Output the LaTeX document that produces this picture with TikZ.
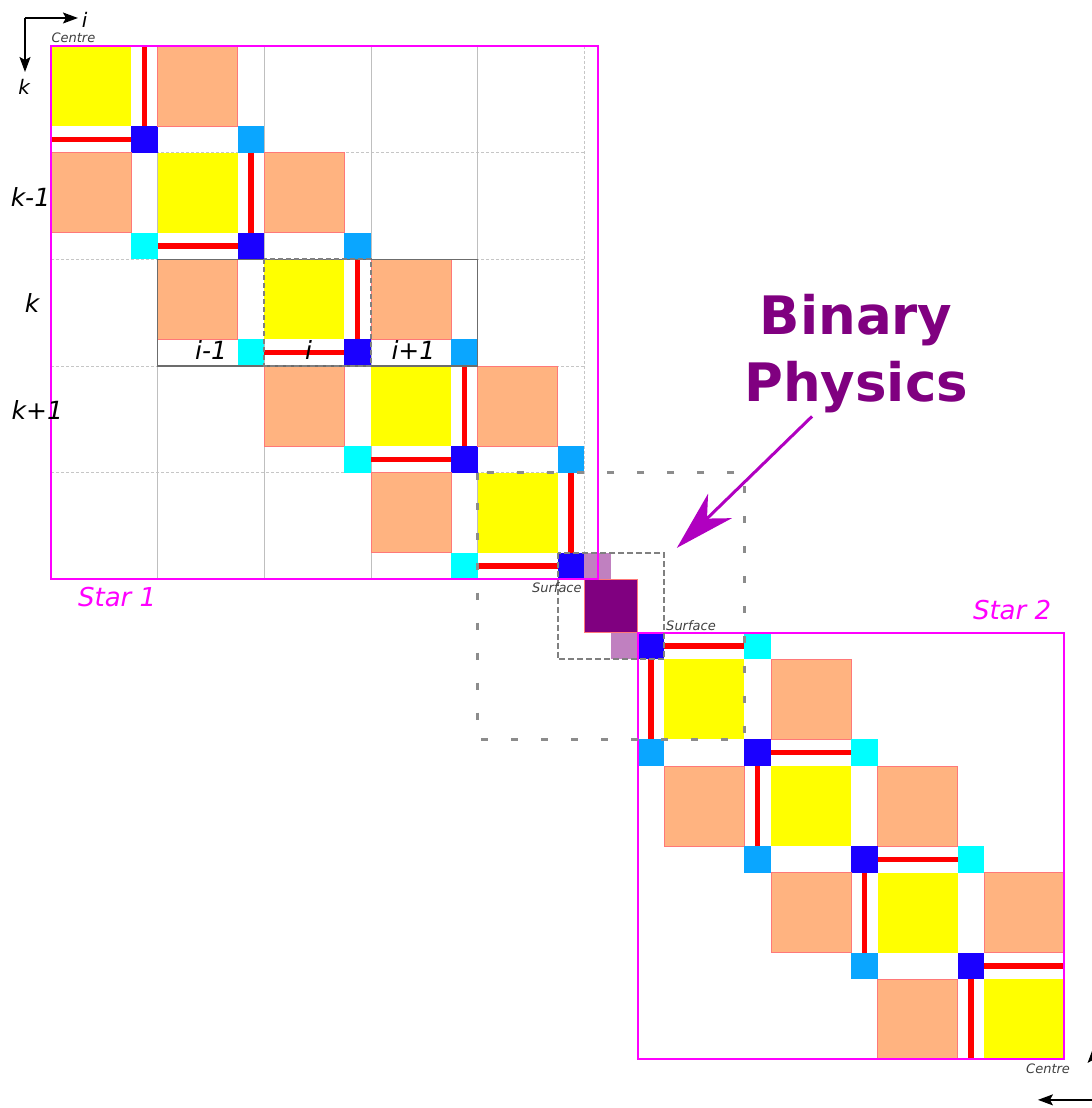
\documentclass[tikz,border=0pt]{standalone}
\usepackage{fontspec}
\setmainfont{DejaVu Sans}
\usepackage{xcolor}
\usetikzlibrary{arrows.meta, positioning}

\definecolor{cellyellow}{RGB}{255,255,0}
\definecolor{cellorange}{RGB}{255,179,128}
\definecolor{edgeorange}{RGB}{255,120,120}
\definecolor{cellblue}{RGB}{26,0,255}
\definecolor{cellcyan}{RGB}{0,255,255}
\definecolor{cellsky}{RGB}{10,166,255}
\definecolor{binlight}{RGB}{192,128,192}
\definecolor{binpurple}{RGB}{128,0,128}
\definecolor{arrowpurple}{RGB}{176,0,192}
\definecolor{starpink}{RGB}{255,0,255}

\begin{document}
\begin{tikzpicture}[
    x=26.667pt, y=-26.667pt,
    yellowsq/.style={fill=cellyellow},
    orangesq/.style={fill=cellorange, draw=edgeorange, line width=0.8pt},
    bluesq/.style={fill=cellblue},
    cyansq/.style={fill=cellcyan},
    skysq/.style={fill=cellsky},
    flux/.style={draw=red, line width=5.5pt},
    gridv/.style={draw=gray!50, line width=0.9pt},
    gridh/.style={draw=gray!45, line width=0.9pt, dash pattern=on 3pt off 2pt},
    starbox/.style={draw=starpink, line width=2pt},
    axis/.style={draw=black, line width=1.3pt, -{Stealth[length=15pt, width=11pt, inset=3pt]}},
    axlabel/.style={font=\itshape\fontsize{20}{22}\selectfont, inner sep=0pt},
    idxlabel/.style={font=\itshape\fontsize{25}{28}\selectfont, inner sep=0pt},
    tiny/.style={font=\itshape\fontsize{13}{15}\selectfont, text=darkgray, inner sep=0pt},
    starlabel/.style={font=\itshape\fontsize{26}{30}\selectfont, text=starpink, inner sep=0pt}
]
\useasboundingbox (-1.9125,-1.725) rectangle (39.0,39.825);

% ── Star 1 grid ──
\foreach \c in {4,8,12,16} {
    \draw[gridv] (\c,0) -- (\c,20);
    \draw[gridh] (0,\c) -- (20,\c);
}
\draw[gridh] (20,0) -- (20,20);

% ── Star 1 cells ──
\foreach \r in {0,...,4} {
    \pgfmathsetmacro\a{4*\r}
    \path[yellowsq] (\a,\a) rectangle ++(3,3);
    \path[bluesq] (\a+3,\a+3) rectangle ++(1,1);
    \ifnum\r<4
        \path[orangesq] (\a+4,\a) rectangle ++(3,3);
        \path[skysq] (\a+7,\a+3) rectangle ++(1,1);
    \fi
    \ifnum\r>0
        \path[orangesq] (\a-4,\a) rectangle ++(3,3);
        \path[cyansq] (\a-1,\a+3) rectangle ++(1,1);
    \fi
    \draw[flux] (\a+3.5,\a) -- ++(0,3);
    \draw[flux] (\a,\a+3.5) -- ++(3,0);
}

% ── Star 2 cells ──
\begin{scope}[shift={(22,22)}]
\foreach \r in {0,...,3} {
    \pgfmathsetmacro\a{4*\r}
    \path[bluesq] (\a,\a) rectangle ++(1,1);
    \path[yellowsq] (\a+1,\a+1) rectangle ++(3,3);
    \ifnum\r<3
        \path[cyansq] (\a+4,\a) rectangle ++(1,1);
        \path[orangesq] (\a+5,\a+1) rectangle ++(3,3);
    \fi
    \ifnum\r>0
        \path[skysq] (\a-4,\a) rectangle ++(1,1);
        \path[orangesq] (\a-3,\a+1) rectangle ++(3,3);
    \fi
    \draw[flux] (\a+1,\a+0.5) -- ++(3,0);
    \draw[flux] (\a+0.5,\a+1) -- ++(0,3);
}
\end{scope}

% ── Binary region ──
\path[fill=binlight] (20,19) rectangle ++(1,1);
\path[fill=binpurple, draw=edgeorange, line width=0.8pt] (20,20) rectangle ++(2,2);
\path[fill=binlight] (21,22) rectangle ++(1,1);

% ── Outlines ──
\draw[gray!85!black, line width=1.5pt] (4,8) rectangle (16,12);
\draw[gray, line width=1.8pt, dash pattern=on 5pt off 3pt] (8,8) rectangle (12,12);
\draw[starbox] (0,0) rectangle (20.5,20);
\draw[starbox] (22,22) rectangle (38,38);
\draw[gray, line width=1.8pt, dash pattern=on 6pt off 3pt] (19,19) rectangle (23,23);
\draw[gray!90, line width=2.6pt, dash pattern=on 7pt off 23pt] (16,16) rectangle (26,26);

% ── Axes ──
\coordinate (axo) at (-0.975,-1.05);
\coordinate (axi) at (1.01,-1.05);
\coordinate (axk) at (-0.975,0.975);
\draw[axis] (axo) -- (axi);
\draw[axis] (axo) -- (axk);
\node[axlabel] (ilabel) at (1.26,-0.975) {i};
\node[axlabel] (klabel) at (-1.01,1.54) {k};

\coordinate (axo2) at (39.08,39.52);
\coordinate (axi2) at (37.01,39.52);
\coordinate (axk2) at (39.08,37.57);
\draw[axis] (axo2) -- (axi2);
\draw[axis] (axo2) -- (axk2);

% ── Index labels ──
\node[idxlabel] (km) at (-0.77,5.66) {k-1};
\node[idxlabel] (k0) at (-0.71,9.64) {k};
\node[idxlabel] (kp) at (-0.51,13.65) {k+1};
\node[idxlabel] (im) at (6.0,11.4) {i-1};
\node[idxlabel] (i0) at (9.66,11.4) {i};
\node[idxlabel] (ip) at (13.59,11.4) {i+1};

% ── Star labels ──
\node[tiny] (centre1) at (0.84,-0.3) {Centre};
\node[tiny] (centre2) at (37.39,38.36) {Centre};
\node[tiny] (surf1) at (18.97,20.33) {Surface};
\node[tiny] (surf2) at (24.0,21.75) {Surface};
\node[starlabel] (star1) at (2.48,20.66) {Star 1};
\node[starlabel] (star2) at (36.04,21.15) {Star 2};

% ── Binary physics ──
\node[font=\bfseries\fontsize{53}{67}\selectfont, text=binpurple, align=center] (binary) at (30.19,11.53) {Binary\\Physics};
\coordinate (bptip) at (23.47,18.82);
\draw[arrowpurple, line width=3pt, -{Stealth[length=60pt, width=34pt, inset=18pt]}] ([xshift=-44pt]binary.south) -- (bptip);

\end{tikzpicture}
\end{document}
